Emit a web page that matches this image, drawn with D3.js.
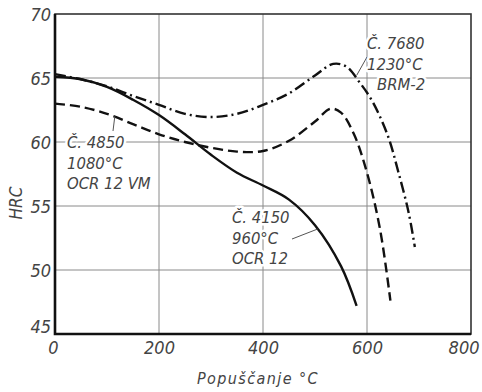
<!DOCTYPE html>
<html>
<head>
<meta charset="utf-8">
<script src="https://cdn.jsdelivr.net/npm/d3@7"></script>
<style>
  html, body { margin: 0; padding: 0; background: #fff; }
  svg { display: block; }
  text { font-family: "Liberation Sans Narrow", "DejaVu Sans Condensed", "Liberation Sans", sans-serif; font-style: italic; fill: #444; }
</style>
</head>
<body>
<svg id="chart" width="482" height="392"></svg>
<script>
// Tempering temperature (°C) and hardness (HRC) ticks
const tempTicks = [0, 200, 400, 600, 800];
const hrcTicks = [45, 50, 55, 60, 65, 70];
const gridTemps = [200, 400, 600];
const gridHrc = [50, 55, 60, 65];

// Č. 4150 (960 °C, OCR 12)
const temp4150 = [0, 50, 100, 150, 200, 250, 300, 350, 400, 450, 500, 550, 580];
const hrc4150  = [65.1, 64.9, 64.3, 63.3, 62.1, 60.6, 59.0, 57.6, 56.6, 55.5, 53.5, 50.3, 47.2];

// Č. 4850 (1080 °C, OCR 12 VM)
const temp4850 = [0, 50, 100, 150, 200, 250, 300, 350, 400, 450, 500, 530, 550, 575, 600, 625, 645];
const hrc4850  = [63.0, 62.75, 62.2, 61.4, 60.6, 60.0, 59.55, 59.25, 59.3, 60.1, 61.6, 62.6, 62.3, 60.6, 57.6, 53.2, 47.6];

// Č. 7680 (1230 °C, BRM-2)
const temp7680 = [0, 50, 100, 150, 200, 250, 300, 350, 400, 450, 500, 535, 560, 585, 610, 640, 660, 680, 692];
const hrc7680  = [65.3, 64.9, 64.35, 63.6, 62.9, 62.2, 61.95, 62.2, 62.9, 63.8, 65.2, 66.1, 65.9, 64.7, 63.2, 60.5, 57.7, 54.5, 51.8];

const svg = d3.select("#chart");
const plotL = 55, plotR = 471, plotT = 14, plotB = 334;

const x = d3.scaleLinear().domain([0, 800]).range([plotL, plotR]);
const y = d3.scaleLinear().domain([45, 70]).range([plotB, plotT]);

// Grid
const grid = svg.append("g").attr("stroke", "#8a8a8a").attr("stroke-width", 1);
grid.selectAll("line.v").data(gridTemps).join("line").attr("class", "v")
  .attr("x1", d => x(d)).attr("x2", d => x(d))
  .attr("y1", plotT).attr("y2", plotB);
grid.selectAll("line.h").data(gridHrc).join("line").attr("class", "h")
  .attr("x1", plotL).attr("x2", plotR)
  .attr("y1", d => y(d)).attr("y2", d => y(d));

// Curves
const line = d3.line().x(d => x(d[0])).y(d => y(d[1])).curve(d3.curveCatmullRom.alpha(0.5));
const zip = (a, b) => a.map((v, i) => [v, b[i]]);

const curves = [
  { pts: zip(temp4150, hrc4150), dash: null },
  { pts: zip(temp4850, hrc4850), dash: "10,5" },
  { pts: zip(temp7680, hrc7680), dash: "11,4,2,4" }
];
svg.append("g").selectAll("path").data(curves).join("path")
  .attr("d", d => line(d.pts))
  .attr("fill", "none")
  .attr("stroke", "#111")
  .attr("stroke-width", 2.4)
  .attr("stroke-dasharray", d => d.dash);

// Leader lines
const leaders = svg.append("g").attr("stroke", "#555").attr("stroke-width", 1);
leaders.append("line").attr("x1", 367).attr("y1", 57).attr("x2", x(580)).attr("y2", y(65.2));
leaders.append("line").attr("x1", 113).attr("y1", 131).attr("x2", x(115)).attr("y2", y(62.0));
leaders.append("line").attr("x1", 292).attr("y1", 239).attr("x2", x(505)).attr("y2", y(53.2));

// Curve labels
function label(lines, x0, y0) {
  const t = svg.append("text")
    .attr("font-size", 16.5)
    .attr("stroke", "#fff").attr("stroke-width", 5)
    .attr("paint-order", "stroke")
    .attr("stroke-linejoin", "round");
  lines.forEach((s, i) => {
    t.append("tspan").attr("x", x0 + (s.dx || 0)).attr("y", y0 + i * 20.5).text(s.t);
  });
}
label([{ t: "Č. 7680" }, { t: "1230°C" }, { t: "BRM-2", dx: 10 }], 367, 49);
label([{ t: "Č. 4850" }, { t: "1080°C" }, { t: "OCR 12 VM" }], 67, 148);
label([{ t: "Č. 4150" }, { t: "960°C" }, { t: "OCR 12" }], 232, 223);

// Frame
svg.append("rect").attr("x", plotL).attr("y", plotT)
  .attr("width", plotR - plotL).attr("height", plotB - plotT)
  .attr("fill", "none").attr("stroke", "#333").attr("stroke-width", 1.6);
svg.append("path")
  .attr("d", `M${plotL},${plotT}V${plotB}H${plotR}`)
  .attr("fill", "none").attr("stroke", "#111").attr("stroke-width", 2.6);

// Axes (labels only)
const yAxis = d3.axisLeft(y).tickValues(hrcTicks).tickSize(0).tickPadding(4);
const gy = svg.append("g").attr("transform", `translate(${plotL},0)`).call(yAxis);
gy.select(".domain").remove();
gy.selectAll("text").attr("font-size", 18).attr("fill", "#555")
  .attr("font-family", null)
  .attr("dy", d => d === 45 ? "-0.1em" : "0.34em");

const xAxis = d3.axisBottom(x).tickValues(tempTicks).tickSize(0).tickPadding(7);
const gx = svg.append("g").attr("transform", `translate(0,${plotB})`).call(xAxis);
gx.select(".domain").remove();
gx.selectAll("text").attr("font-size", 18).attr("fill", "#555")
  .attr("font-family", null)
  .attr("text-anchor", d => d === 800 ? "end" : "middle")
  .attr("dx", d => d === 800 ? "8" : d === 0 ? "-2" : "0");

// Axis titles
svg.append("text").attr("transform", "translate(22,203) rotate(-90)")
  .attr("text-anchor", "middle").attr("font-size", 17).attr("fill", "#555").text("HRC");
svg.append("text").attr("x", 258).attr("y", 384)
  .attr("text-anchor", "middle").attr("font-size", 16).attr("fill", "#555")
  .attr("letter-spacing", 1.4).text("Popuščanje  °C");
</script>
</body>
</html>
